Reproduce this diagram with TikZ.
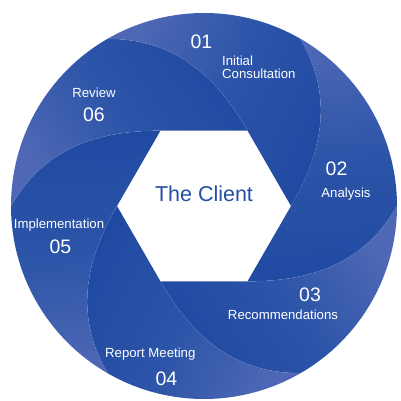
\documentclass[tikz,border=0pt]{standalone}
\usepackage{fontspec}
\setmainfont{Liberation Sans}
\definecolor{bladedark}{RGB}{32,74,162}
\definecolor{blademid}{RGB}{44,84,168}
\definecolor{bladelight}{RGB}{78,104,181}
\definecolor{clientblue}{RGB}{38,78,166}
\begin{document}
\begin{tikzpicture}[x=1pt, y=1pt,
        num/.style={text=white, font=\fontsize{19.5}{20}\selectfont, inner sep=0pt},
        lab/.style={text=white, font=\fontsize{13.2}{13}\selectfont, inner sep=0pt, align=left}]
    \fill[white] (-204,-195) rectangle (196,206);
    \useasboundingbox (-204,-195) rectangle (196,206);
    % blades
    \foreach \a [evaluate=\a as \b using \a+60, evaluate=\a as \c using \a+120,
                 evaluate=\a as \m using \a-60, evaluate=\a as \s using \a+64] in {0,60,...,300} {
        \path[top color=bladelight, bottom color=bladedark, middle color=blademid, shading angle=\s]
            (\a:87) to[out=\b, in=\m] (\b:193)
            arc[start angle=\b, end angle=\c, radius=193pt]
            to[out=\a, in=\c] (\b:87) -- cycle;
        \draw[white, opacity=0.1, line width=0.6pt] (\a:87) to[out=\b, in=\m] (\b:193);
    }
    \node[anchor=base, text=clientblue, font=\fontsize{21.5}{22}\selectfont] (client) at (0,4) {The Client};
    \node[num] (n01) at (-2.5,164.5) {01};
    \node[lab, anchor=west] (l01) at (18,139) {Initial\\Consultation};
    \node[num] (n02) at (132.5,37.5) {02};
    \node[lab] (l02) at (142,12) {Analysis};
    \node[num] (n03) at (106,-88.5) {03};
    \node[lab] (l03) at (79,-109) {Recommendations};
    \node[num] (n04) at (-37.5,-172.5) {04};
    \node[lab] (l04) at (-53.7,-148) {Report Meeting};
    \node[num] (n05) at (-143.5,-40.5) {05};
    \node[lab] (l05) at (-145,-19) {Implementation};
    \node[num] (n06) at (-110,91.5) {06};
    \node[lab] (l06) at (-110,113.5) {Review};
\end{tikzpicture}
\end{document}
